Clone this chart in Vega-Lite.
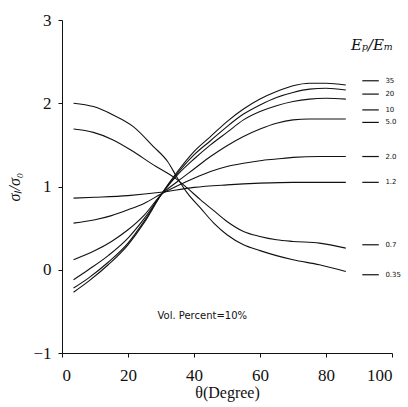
{
  "$schema": "https://vega.github.io/schema/vega-lite/v6.json",
  "width": 330,
  "height": 333,
  "autosize": "none",
  "padding": {"left": 62, "top": 20, "right": 16, "bottom": 54},
  "background": "white",
  "config": {
    "view": {"stroke": null},
    "axis": {
      "domainColor": "#111",
      "tickColor": "#111",
      "grid": false,
      "labelFont": "Liberation Serif",
      "labelFontSize": 17,
      "labelColor": "#111",
      "titleFont": "Liberation Serif",
      "titleColor": "#111",
      "titleFontWeight": "normal"
    }
  },
  "datasets": {
    "curves": [
      {"r": "35", "t": 3.5, "v": -0.27}, {"r": "35", "t": 8, "v": -0.14}, {"r": "35", "t": 14, "v": 0.06}, {"r": "35", "t": 20, "v": 0.3}, {"r": "35", "t": 25, "v": 0.57}, {"r": "35", "t": 30, "v": 0.9}, {"r": "35", "t": 35, "v": 1.18}, {"r": "35", "t": 40, "v": 1.42}, {"r": "35", "t": 45, "v": 1.6}, {"r": "35", "t": 50, "v": 1.78}, {"r": "35", "t": 55, "v": 1.93}, {"r": "35", "t": 60, "v": 2.05}, {"r": "35", "t": 65, "v": 2.14}, {"r": "35", "t": 70, "v": 2.21}, {"r": "35", "t": 75, "v": 2.24}, {"r": "35", "t": 80, "v": 2.24}, {"r": "35", "t": 86, "v": 2.22},
      {"r": "20", "t": 3.5, "v": -0.22}, {"r": "20", "t": 8, "v": -0.1}, {"r": "20", "t": 14, "v": 0.09}, {"r": "20", "t": 20, "v": 0.32}, {"r": "20", "t": 25, "v": 0.59}, {"r": "20", "t": 30, "v": 0.9}, {"r": "20", "t": 35, "v": 1.16}, {"r": "20", "t": 40, "v": 1.38}, {"r": "20", "t": 45, "v": 1.55}, {"r": "20", "t": 50, "v": 1.72}, {"r": "20", "t": 55, "v": 1.87}, {"r": "20", "t": 60, "v": 1.98}, {"r": "20", "t": 65, "v": 2.07}, {"r": "20", "t": 70, "v": 2.13}, {"r": "20", "t": 75, "v": 2.17}, {"r": "20", "t": 80, "v": 2.18}, {"r": "20", "t": 86, "v": 2.16},
      {"r": "10", "t": 3.5, "v": -0.12}, {"r": "10", "t": 8, "v": 0.0}, {"r": "10", "t": 14, "v": 0.17}, {"r": "10", "t": 20, "v": 0.38}, {"r": "10", "t": 25, "v": 0.62}, {"r": "10", "t": 30, "v": 0.9}, {"r": "10", "t": 35, "v": 1.14}, {"r": "10", "t": 40, "v": 1.33}, {"r": "10", "t": 45, "v": 1.5}, {"r": "10", "t": 50, "v": 1.65}, {"r": "10", "t": 55, "v": 1.8}, {"r": "10", "t": 60, "v": 1.9}, {"r": "10", "t": 65, "v": 1.97}, {"r": "10", "t": 70, "v": 2.02}, {"r": "10", "t": 75, "v": 2.05}, {"r": "10", "t": 80, "v": 2.06}, {"r": "10", "t": 86, "v": 2.05},
      {"r": "5.0", "t": 3.5, "v": 0.12}, {"r": "5.0", "t": 10, "v": 0.23}, {"r": "5.0", "t": 15, "v": 0.34}, {"r": "5.0", "t": 20, "v": 0.48}, {"r": "5.0", "t": 25, "v": 0.66}, {"r": "5.0", "t": 30, "v": 0.9}, {"r": "5.0", "t": 35, "v": 1.06}, {"r": "5.0", "t": 40, "v": 1.21}, {"r": "5.0", "t": 45, "v": 1.36}, {"r": "5.0", "t": 50, "v": 1.49}, {"r": "5.0", "t": 55, "v": 1.6}, {"r": "5.0", "t": 60, "v": 1.69}, {"r": "5.0", "t": 65, "v": 1.76}, {"r": "5.0", "t": 70, "v": 1.8}, {"r": "5.0", "t": 75, "v": 1.81}, {"r": "5.0", "t": 80, "v": 1.81}, {"r": "5.0", "t": 86, "v": 1.81},
      {"r": "2.0", "t": 3.5, "v": 0.56}, {"r": "2.0", "t": 10, "v": 0.6}, {"r": "2.0", "t": 15, "v": 0.65}, {"r": "2.0", "t": 20, "v": 0.72}, {"r": "2.0", "t": 25, "v": 0.8}, {"r": "2.0", "t": 30, "v": 0.91}, {"r": "2.0", "t": 35, "v": 1.01}, {"r": "2.0", "t": 40, "v": 1.1}, {"r": "2.0", "t": 45, "v": 1.18}, {"r": "2.0", "t": 50, "v": 1.24}, {"r": "2.0", "t": 55, "v": 1.28}, {"r": "2.0", "t": 60, "v": 1.31}, {"r": "2.0", "t": 65, "v": 1.33}, {"r": "2.0", "t": 70, "v": 1.35}, {"r": "2.0", "t": 78, "v": 1.36}, {"r": "2.0", "t": 86, "v": 1.36},
      {"r": "1.2", "t": 3.5, "v": 0.86}, {"r": "1.2", "t": 10, "v": 0.87}, {"r": "1.2", "t": 20, "v": 0.89}, {"r": "1.2", "t": 30, "v": 0.93}, {"r": "1.2", "t": 40, "v": 0.99}, {"r": "1.2", "t": 50, "v": 1.02}, {"r": "1.2", "t": 60, "v": 1.04}, {"r": "1.2", "t": 70, "v": 1.05}, {"r": "1.2", "t": 86, "v": 1.05},
      {"r": "0.7", "t": 3.5, "v": 1.69}, {"r": "0.7", "t": 9.5, "v": 1.65}, {"r": "0.7", "t": 15.5, "v": 1.56}, {"r": "0.7", "t": 21.6, "v": 1.42}, {"r": "0.7", "t": 27.7, "v": 1.26}, {"r": "0.7", "t": 32, "v": 1.16}, {"r": "0.7", "t": 35, "v": 1.08}, {"r": "0.7", "t": 38, "v": 0.98}, {"r": "0.7", "t": 42, "v": 0.84}, {"r": "0.7", "t": 46, "v": 0.71}, {"r": "0.7", "t": 50, "v": 0.58}, {"r": "0.7", "t": 55, "v": 0.46}, {"r": "0.7", "t": 60, "v": 0.4}, {"r": "0.7", "t": 65, "v": 0.36}, {"r": "0.7", "t": 70, "v": 0.34}, {"r": "0.7", "t": 78, "v": 0.32}, {"r": "0.7", "t": 86, "v": 0.26},
      {"r": "0.35", "t": 3.5, "v": 2.0}, {"r": "0.35", "t": 9.5, "v": 1.96}, {"r": "0.35", "t": 15.5, "v": 1.86}, {"r": "0.35", "t": 21.6, "v": 1.72}, {"r": "0.35", "t": 27.7, "v": 1.48}, {"r": "0.35", "t": 32, "v": 1.3}, {"r": "0.35", "t": 35, "v": 1.1}, {"r": "0.35", "t": 38, "v": 0.92}, {"r": "0.35", "t": 42, "v": 0.74}, {"r": "0.35", "t": 46, "v": 0.56}, {"r": "0.35", "t": 50, "v": 0.42}, {"r": "0.35", "t": 55, "v": 0.3}, {"r": "0.35", "t": 60, "v": 0.23}, {"r": "0.35", "t": 65, "v": 0.17}, {"r": "0.35", "t": 70, "v": 0.12}, {"r": "0.35", "t": 78, "v": 0.06}, {"r": "0.35", "t": 86, "v": -0.02}
    ],
    "keys": [
      {"r": "35", "ly": 2.27}, {"r": "20", "ly": 2.11}, {"r": "10", "ly": 1.92}, {"r": "5.0", "ly": 1.77},
      {"r": "2.0", "ly": 1.36}, {"r": "1.2", "ly": 1.05}, {"r": "0.7", "ly": 0.3}, {"r": "0.35", "ly": -0.06}
    ],
    "notes": [
      {"label": "Vol. Percent=10%", "t": 42.5, "v": -0.56}
    ],
    "head": [
      {"label": "Eₚ/Eₘ", "t": 94, "v": 2.7}
    ]
  },
  "layer": [
    {
      "data": {"name": "curves"},
      "mark": {"type": "line", "interpolate": "monotone", "color": "#111", "strokeWidth": 1.1},
      "encoding": {
        "x": {"field": "t", "type": "quantitative", "scale": {"domain": [0, 100], "nice": false},
          "axis": {"values": [0, 20, 40, 60, 80, 100], "format": "d", "tickSize": 4, "labelPadding": 10, "title": "θ(Degree)", "titleFontSize": 16, "titlePadding": 1}},
        "y": {"field": "v", "type": "quantitative", "scale": {"domain": [-1, 3], "nice": false},
          "axis": {"values": [-1, 0, 1, 2, 3], "format": "d", "tickSize": 4, "labelPadding": 7, "title": "σₗ/σ₀", "titleFontSize": 16, "titleFontStyle": "italic", "titlePadding": 10}},
        "detail": {"field": "r", "type": "nominal"}
      }
    },
    {
      "data": {"name": "keys"},
      "mark": {"type": "rule", "color": "#111", "strokeWidth": 1.2},
      "encoding": {
        "x": {"datum": 91},
        "x2": {"datum": 96},
        "y": {"field": "ly", "type": "quantitative"}
      }
    },
    {
      "data": {"name": "keys"},
      "mark": {"type": "text", "align": "left", "baseline": "middle", "font": "DejaVu Sans", "fontSize": 7, "color": "#111"},
      "encoding": {
        "x": {"datum": 98},
        "y": {"field": "ly", "type": "quantitative"},
        "text": {"field": "r"}
      }
    },
    {
      "data": {"name": "notes"},
      "mark": {"type": "text", "align": "center", "baseline": "middle", "font": "DejaVu Sans", "fontSize": 10, "color": "#111"},
      "encoding": {
        "x": {"field": "t", "type": "quantitative"},
        "y": {"field": "v", "type": "quantitative"},
        "text": {"field": "label"}
      }
    },
    {
      "data": {"name": "head"},
      "mark": {"type": "text", "align": "center", "baseline": "middle", "font": "DejaVu Serif", "fontStyle": "italic", "fontSize": 15, "color": "#111"},
      "encoding": {
        "x": {"field": "t", "type": "quantitative"},
        "y": {"field": "v", "type": "quantitative"},
        "text": {"field": "label"}
      }
    }
  ]
}
